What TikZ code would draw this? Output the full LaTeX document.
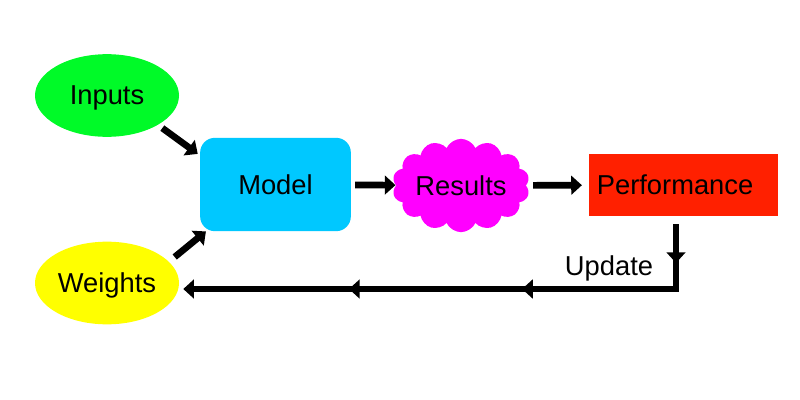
\documentclass[tikz,border=0pt]{standalone}
\usepackage{fontspec}
\setmainfont{Liberation Sans}
\usetikzlibrary{shapes.geometric,shapes.symbols,arrows.meta,decorations.markings}
\definecolor{inputgreen}{RGB}{0,250,40}
\definecolor{modelblue}{RGB}{0,200,255}
\definecolor{resultpink}{RGB}{255,0,255}
\definecolor{perfred}{RGB}{255,32,0}
\definecolor{weightyellow}{RGB}{255,255,0}
\begin{document}
\begin{tikzpicture}[x=0.75pt,y=-0.75pt,
    every node/.style={font=\fontsize{20.5}{24}\selectfont},
    blob/.style={ellipse,inner sep=0pt,text depth=0pt,minimum width=108pt,minimum height=62pt},
    flow/.style={line width=5pt,-{Triangle[length=8pt,width=14pt]}},
    midarrows/.style={postaction={decorate},decoration={markings,
      mark=at position 0.082 with {\arrow{Triangle[length=8pt,width=14pt]}},
      mark=at position 0.398 with {\arrow{Triangle[length=8pt,width=14pt]}},
      mark=at position 0.702 with {\arrow{Triangle[length=8pt,width=14pt]}}}}]
  \useasboundingbox (0,0) rectangle (800,400);
  \node[blob,fill=inputgreen] (inputs) at (107,95.5) {Inputs};
  \node[blob,fill=weightyellow] (weights) at (107,283) {Weights};
  \node[fill=modelblue,rounded corners=11pt,minimum width=113pt,minimum height=70pt] (model) at (275.5,184.5) {Model};
  \node[cloud,cloud puffs=14,cloud puff arc=130,cloud ignores aspect,inner sep=0pt,fill=resultpink,
    minimum width=103pt,minimum height=70pt] (results) at (461,185.5) {Results};
  \node[fill=perfred,text width=130pt,align=left,inner xsep=6pt,minimum height=46.5pt] (perf) at (683.5,185) {Performance};
  \coordinate (corner) at (676,289);
  \node[text depth=0pt] (update) at (609,266) {Update};
  % arrows into and out of the model
  \draw[flow,shorten <=4pt,shorten >=2pt] (inputs.-30) -- (model.159);
  \draw[flow,shorten <=5.5pt] (weights.19) -- (model.214);
  \draw[flow,shorten <=3pt] (model) -- (results);
  \draw[flow,shorten <=5pt,shorten >=5pt] (results) -- (perf);
  % feedback
  \draw[flow,midarrows,shorten <=6pt,shorten >=3pt] (perf.south -| corner) -- (corner) -- (weights.east |- corner);
\end{tikzpicture}
\end{document}
